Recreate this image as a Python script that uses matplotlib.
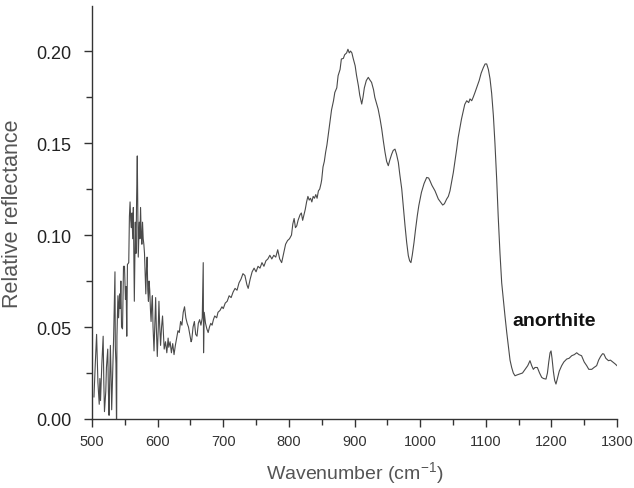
import numpy as np
import matplotlib
matplotlib.use("Agg")
import matplotlib.pyplot as plt
from matplotlib.ticker import MultipleLocator

plt.rcParams['font.family'] = ['Liberation Sans', 'DejaVu Sans']

# spectrum (wavenumber, relative reflectance)
wavenumber = [
    503, 505, 507, 509, 511, 512, 513, 515, 517, 518, 519, 521, 522, 524, 525, 526, 527, 528, 529, 530,
    531, 532, 533, 534, 535, 535.5, 536.5, 537.5, 538, 539.5, 540.5, 542, 543, 544, 545, 546.5, 548, 549.5,
    551, 552, 553, 554, 556, 557, 558, 559, 560, 561, 562, 563, 564.5, 566, 567, 568, 569, 570, 570.5,
    572, 573, 574, 575, 576, 577, 578, 579, 580, 581, 582, 583, 584, 585, 586, 587, 588, 589, 590, 591,
    592, 593, 594.5, 596, 597, 598, 599.5, 601, 602, 603, 604.5, 606, 607.5, 609, 610, 612, 614, 616,
    617, 619, 621, 623, 625, 627, 629, 631, 633, 635, 637, 639, 641, 643, 645, 647, 649, 651, 652, 654,
    656, 658, 660, 662, 664, 666, 668, 669.5, 670, 671, 673, 675, 677, 679, 681, 683, 685, 687, 690,
    692, 695, 698, 700, 703, 706, 709, 712, 715, 718, 721, 724, 727, 730, 733, 736, 738, 741, 744, 747,
    750, 753, 756, 759, 762, 765, 768, 771, 774, 777, 780, 783, 786, 789, 792, 795, 798, 801, 804, 806,
    808, 810, 812, 814, 817, 819, 821, 823, 825, 827, 829, 831, 833, 835, 837, 839, 841, 843, 845, 847,
    849, 850, 852, 854, 856, 858, 861, 865, 868, 870, 873, 875, 878, 880, 883, 885, 888, 890, 892, 894,
    896, 898, 901, 903, 906, 908, 911, 913, 915, 918, 921, 924, 926, 929, 931, 934, 936, 939, 941.5, 944,
    946.5, 949, 951.5, 954, 956.7, 959, 961.7, 964, 966.8, 969, 972, 974.5, 977, 979.5, 982, 984, 986,
    988, 990.7, 993, 995.7, 998, 1002, 1006, 1010, 1013, 1015, 1018, 1022.7, 1025, 1027.7, 1031, 1034.4,
    1037, 1040.5, 1043, 1045.5, 1048, 1050.6, 1053, 1055.7, 1058, 1060.7, 1063, 1065.8, 1068, 1071, 1074,
    1076, 1078.6, 1081, 1083.6, 1087, 1090, 1093, 1096.3, 1099, 1101.4, 1104, 1106.5, 1109, 1111.6, 1114,
    1116.7, 1119, 1121.7, 1124.3, 1127, 1129.3, 1132, 1134.4, 1137, 1139.5, 1142, 1144.6, 1148, 1152,
    1156, 1160, 1164, 1167.4, 1170, 1172.5, 1175, 1178.6, 1182, 1185.3, 1188, 1191.8, 1194, 1196, 1198,
    1199.5, 1201, 1203, 1205, 1207, 1209, 1212, 1215.7, 1219, 1223.4, 1227, 1231, 1235, 1238.6, 1242,
    1246, 1250, 1253.8, 1257, 1261.5, 1265, 1269, 1272, 1275, 1278, 1280, 1283, 1287, 1290, 1293.5, 1297,
    1300,
]
reflectance = [
    0.012, 0.030, 0.046, 0.020, 0.008, 0.022, 0.010, 0.030, 0.045, 0.020, 0.004, 0.015, 0.028, 0.038, 0.015, 0.002, 0.020, 0.040, 0.025, 0.005,
    0.018, 0.030, 0.045, 0.062, 0.080, 0.040, 0.030, -0.010, 0.045, 0.067, 0.055, 0.068, 0.060, 0.075, 0.050, 0.049, 0.083, 0.083,
    0.065, 0.072, 0.045, 0.084, 0.085, 0.110, 0.118, 0.108, 0.104, 0.112, 0.098, 0.115, 0.064, 0.107, 0.090, 0.120, 0.143, 0.110, 0.088,
    0.107, 0.098, 0.115, 0.100, 0.095, 0.107, 0.098, 0.095, 0.090, 0.078, 0.068, 0.082, 0.088, 0.070, 0.064, 0.075, 0.070, 0.060, 0.053, 0.062,
    0.067, 0.050, 0.037, 0.055, 0.066, 0.050, 0.034, 0.050, 0.064, 0.052, 0.040, 0.050, 0.056, 0.045, 0.038, 0.042, 0.036, 0.044,
    0.039, 0.042, 0.036, 0.041, 0.035, 0.040, 0.044, 0.048, 0.047, 0.053, 0.051, 0.058, 0.061, 0.055, 0.052, 0.050, 0.046, 0.042, 0.043, 0.050,
    0.053, 0.046, 0.045, 0.052, 0.054, 0.051, 0.055, 0.085, 0.036, 0.058, 0.052, 0.049, 0.047, 0.050, 0.052, 0.051, 0.054, 0.056, 0.055,
    0.058, 0.059, 0.061, 0.060, 0.063, 0.064, 0.067, 0.066, 0.069, 0.071, 0.070, 0.074, 0.076, 0.079, 0.078, 0.073, 0.071, 0.076, 0.080, 0.082,
    0.080, 0.083, 0.082, 0.085, 0.083, 0.086, 0.087, 0.089, 0.087, 0.089, 0.088, 0.092, 0.087, 0.085, 0.090, 0.095, 0.097, 0.098, 0.100, 0.106,
    0.109, 0.104, 0.105, 0.108, 0.111, 0.112, 0.108, 0.111, 0.114, 0.118, 0.121, 0.119, 0.120, 0.118, 0.121, 0.120, 0.122, 0.120, 0.124, 0.125,
    0.128, 0.130, 0.137, 0.140, 0.145, 0.149, 0.157, 0.168, 0.173, 0.1775, 0.180, 0.1866, 0.190, 0.1957, 0.196, 0.198, 0.199, 0.201, 0.199, 0.200,
    0.199, 0.196, 0.192, 0.187, 0.181, 0.176, 0.1712, 0.175, 0.180, 0.184, 0.1857, 0.184, 0.183, 0.179, 0.1748, 0.171, 0.1685, 0.163, 0.1576, 0.151,
    0.145, 0.140, 0.1377, 0.141, 0.144, 0.146, 0.1467, 0.144, 0.1395, 0.133, 0.125, 0.115, 0.105, 0.096, 0.0888, 0.086, 0.085,
    0.089, 0.096, 0.103, 0.1105, 0.116, 0.1232, 0.128, 0.1313, 0.131, 0.1295, 0.127, 0.124, 0.122, 0.1196, 0.118, 0.1163,
    0.117, 0.1196, 0.121, 0.124, 0.129, 0.134, 0.140, 0.1467, 0.153, 0.1585, 0.163, 0.1676, 0.171, 0.173, 0.172,
    0.174, 0.173, 0.175, 0.1775, 0.181, 0.184, 0.188, 0.191, 0.193, 0.193, 0.190, 0.185, 0.177, 0.165, 0.150,
    0.130, 0.110, 0.090, 0.074, 0.064, 0.056, 0.047, 0.040, 0.032, 0.028, 0.025, 0.0235, 0.024, 0.0245,
    0.025, 0.027, 0.029, 0.0317, 0.029, 0.027, 0.028, 0.028, 0.025, 0.0226, 0.022, 0.0217, 0.025, 0.031, 0.036,
    0.037, 0.033, 0.026, 0.021, 0.019, 0.0217, 0.026, 0.029, 0.031, 0.0326, 0.033, 0.0344, 0.035, 0.036, 0.035,
    0.0344, 0.031, 0.029, 0.027, 0.027, 0.028, 0.029, 0.032, 0.034, 0.0355, 0.0353, 0.033, 0.0317, 0.032, 0.031, 0.030,
    0.029,
]

label_text = "anorthite"
label_pos = (1140, 0.0534)

fig = plt.figure(figsize=(6.34, 4.89), dpi=100)
ax = fig.add_axes([92/634, 69/489, 525/634, 413/489])

ax.plot(wavenumber, reflectance, color='#4a4a4a', lw=0.8)

ax.set_xlim(500, 1300)
ax.set_ylim(0, 0.2245)
ax.xaxis.set_major_locator(MultipleLocator(100))
ax.xaxis.set_minor_locator(MultipleLocator(50))
ax.yaxis.set_major_locator(MultipleLocator(0.05))
ax.yaxis.set_minor_locator(MultipleLocator(0.025))
ax.yaxis.set_major_formatter(plt.FormatStrFormatter('%.2f'))

for s in ['top', 'right']:
    ax.spines[s].set_visible(False)
for s in ['left', 'bottom']:
    ax.spines[s].set_color('#333333')
    ax.spines[s].set_linewidth(1.0)

ax.tick_params(axis='x', which='major', length=6, width=1, color='#333333', labelsize=10.5, labelcolor='#333333', pad=5)
ax.tick_params(axis='x', which='minor', length=4, width=1, color='#333333')
ax.tick_params(axis='y', which='major', length=6, width=1, color='#333333', labelsize=13, labelcolor='#222222', pad=9)
ax.tick_params(axis='y', which='minor', length=4, width=1, color='#333333')

ax.set_xlabel('Wavenumber (cm$^{\\mathregular{-1}}$)', fontsize=14, color='#555555', labelpad=8)
ax.set_ylabel('Relative reflectance', fontsize=15.5, color='#555555', labelpad=9)

ax.text(label_pos[0], label_pos[1], label_text, fontsize=14, fontweight='bold', color='#111111', ha='left', va='center')

fig.savefig('out.png', dpi=100)
